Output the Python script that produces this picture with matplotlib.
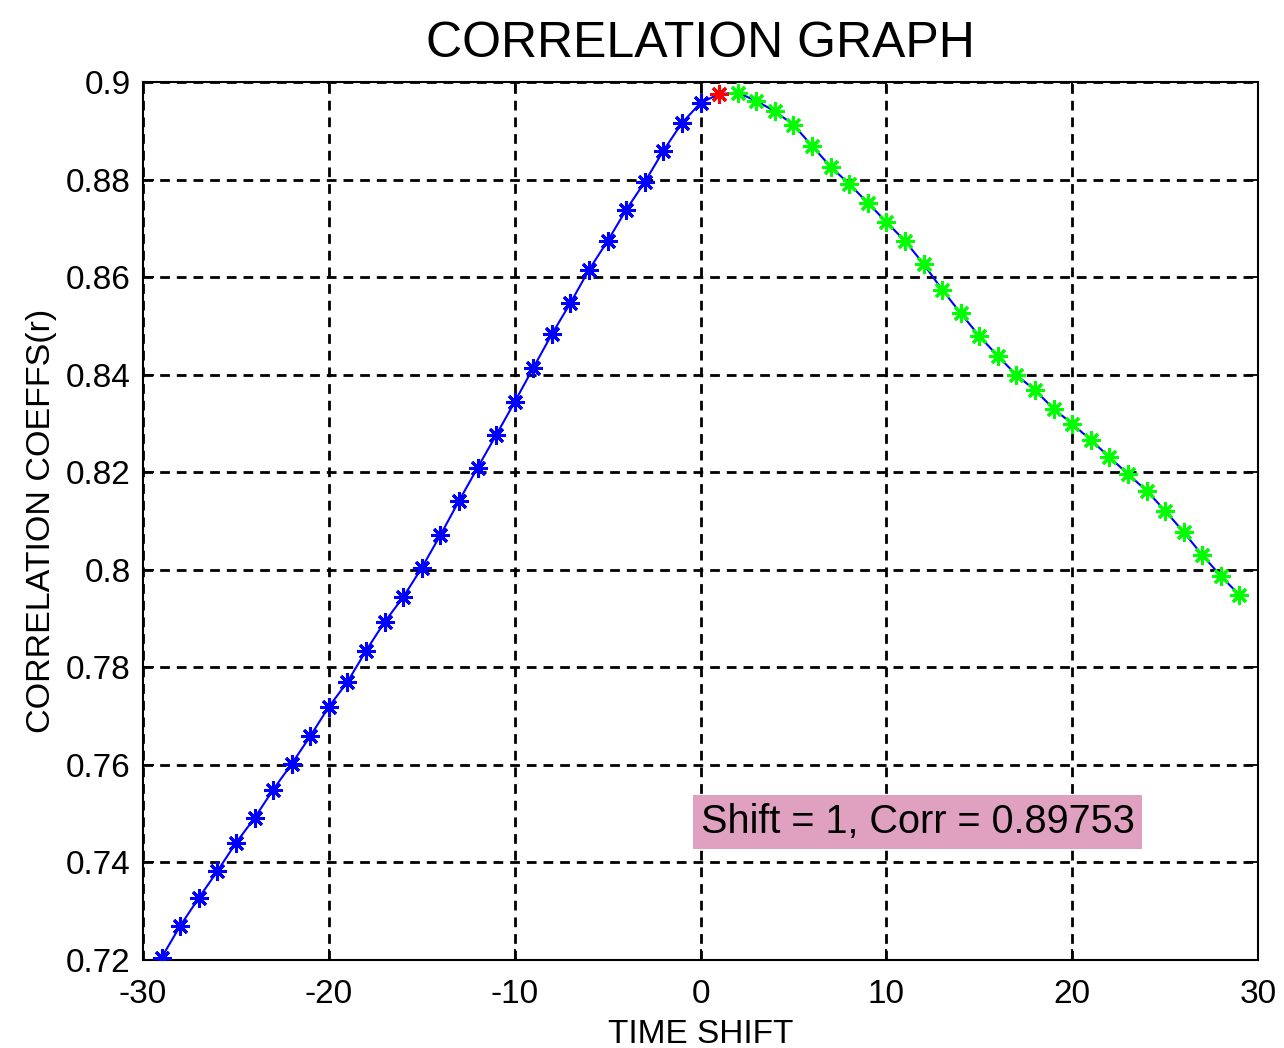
import matplotlib
matplotlib.use("Agg")
import matplotlib.pyplot as plt
import numpy as np

plt.rcParams['font.family'] = ['Liberation Sans', 'DejaVu Sans']
plt.rcParams['axes.unicode_minus'] = False

# time shifts and correlation coefficients
shift_neg = np.arange(-29, 1)
corr_neg = [0.7205, 0.7270, 0.7327, 0.7382, 0.7440, 0.7491, 0.7549, 0.7602,
            0.7659, 0.7719, 0.7770, 0.7834, 0.7893, 0.7944, 0.8004, 0.8071,
            0.8141, 0.8209, 0.8276, 0.8344, 0.8414, 0.8483, 0.8547, 0.8615,
            0.8674, 0.8738, 0.8795, 0.8859, 0.8916, 0.8957]
best_shift = 1
best_corr = 0.89753
shift_pos = np.arange(2, 30)
corr_pos = [0.8978, 0.8961, 0.8940, 0.8912, 0.8869, 0.8826, 0.8791, 0.8752,
            0.8713, 0.8674, 0.8627, 0.8574, 0.8526, 0.8479, 0.8438, 0.8399,
            0.8368, 0.8330, 0.8299, 0.8266, 0.8231, 0.8196, 0.8162, 0.8121,
            0.8077, 0.8030, 0.7987, 0.7948]

xticks = [-30, -20, -10, 0, 10, 20, 30]
yticks = [0.72, 0.74, 0.76, 0.78, 0.8, 0.82, 0.84, 0.86, 0.88, 0.9]
ytick_labels = ['0.72', '0.74', '0.76', '0.78', '0.8', '0.82', '0.84', '0.86', '0.88', '0.9']

fig = plt.figure(figsize=(12.84, 10.48), dpi=100)
ax = fig.add_axes([0.1114, 0.0840, 0.8684, 0.8378])

all_x = np.concatenate([shift_neg, [best_shift], shift_pos])
all_y = np.concatenate([corr_neg, [best_corr], corr_pos])
ax.plot(all_x, all_y, '-', color='#0000ff', lw=1.5, zorder=3)

star = (8, 2, 0)
ax.plot(shift_neg, corr_neg, ls='none', marker=star, ms=13, mew=2.2,
        mec='#0000ff', zorder=4)
ax.plot(shift_pos, corr_pos, ls='none', marker=star, ms=13, mew=2.2,
        mec='#00ff00', zorder=4)
ax.plot([best_shift], [best_corr], ls='none', marker=star, ms=13, mew=2.2,
        mec='#ff0000', zorder=5)

ax.set_xlim(-30, 30)
ax.set_ylim(0.72, 0.9)
ax.set_xticks(xticks)
ax.set_yticks(yticks)
ax.set_yticklabels(ytick_labels)
ax.tick_params(direction='in', top=True, right=True, length=8, width=1.3,
               labelsize=24, pad=9)
ax.tick_params(axis='x', pad=14)
ax.grid(True, color='black', ls=(0, (3.5, 2.5)), lw=2)
for s in ax.spines.values():
    s.set_linewidth(1.5)

ax.set_title('CORRELATION GRAPH', fontsize=36, pad=18)
ax.set_xlabel('TIME SHIFT', fontsize=24, labelpad=6)
ax.set_ylabel('CORRELATION COEFFS(r)', fontsize=24.5, labelpad=6)

ax.text(0.0, 0.7482, 'Shift = %d, Corr = %.5f' % (best_shift, best_corr),
        fontsize=28.5, va='center', ha='left', zorder=6,
        bbox=dict(boxstyle='square,pad=0.2', fc='#e0a0c0', ec='none'))

fig.savefig('out.png', dpi=100)
